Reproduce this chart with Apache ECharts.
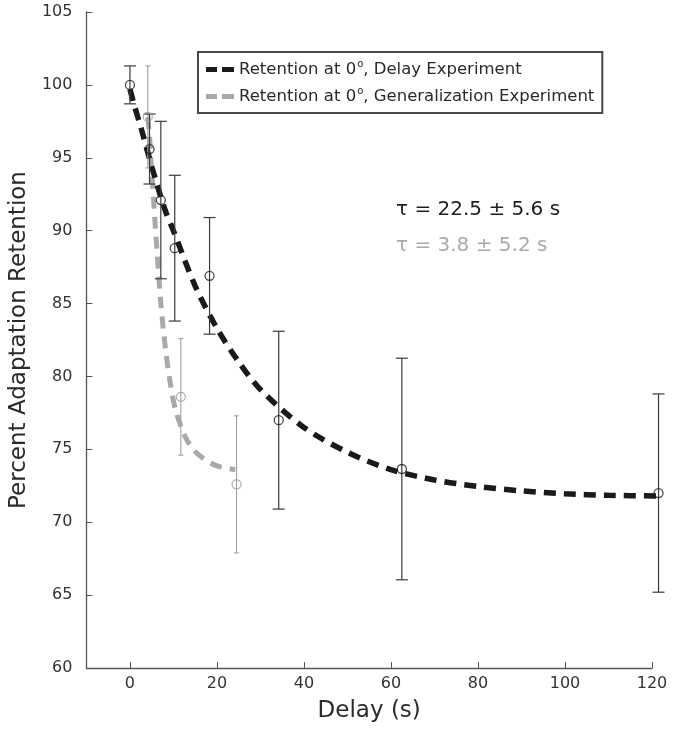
<!DOCTYPE html>
<html>
<head>
<meta charset="utf-8">
<script src="https://cdn.jsdelivr.net/npm/echarts@6/dist/echarts.min.js"></script>
<style>html,body{margin:0;padding:0;background:#fff}#c{width:683px;height:733px}</style>
</head>
<body>
<div id="c"></div>
<script>
// ---- data ----
const xTicks = [0, 20, 40, 60, 80, 100, 120];

// Delay experiment (black)
const delayX   = [0, 4.5, 7.1, 10.3, 18.3, 34.2, 62.5, 121.5];
const delayY   = [100, 95.6, 92.1, 88.8, 86.9, 77.0, 73.65, 72.0];
const delayErr = [1.3, 2.4, 5.4, 5.0, 4.0, 6.1, 7.6, 6.8];

// Generalization experiment (gray)
const genX   = [4.1, 11.7, 24.5];
const genY   = [97.8, 78.6, 72.6];
const genErr = [3.5, 4.0, 4.7];

// fitted curves
const delayFitX = [0, 1.1, 2.6, 5.1, 8.1, 10, 15, 20, 25, 30, 40, 50, 60, 70, 80, 90, 100, 110, 121.5];
const delayFitY = [99.7, 98.5, 97.0, 94.3, 91.4, 90.0, 86.2, 83.3, 81.0, 79.1, 76.5, 74.8, 73.6, 72.9, 72.45, 72.15, 71.95, 71.85, 71.8];
const genFitX = [4.1, 4.5, 4.9, 5.4, 5.8, 6.3, 7.1, 8.2, 9.3, 10.5, 12.8, 15.5, 19.7, 24.2];
const genFitY = [97.8, 96.5, 94.5, 92.3, 90.4, 88.3, 85.0, 81.8, 79.5, 77.7, 75.8, 74.7, 73.9, 73.6];

const legendNames = ['Retention at 0°, Delay Experiment', 'Retention at 0°, Generalization Experiment'];
const tauTexts = ['τ = 22.5 ± 5.6 s', 'τ = 3.8 ± 5.2 s'];

const zip = (a, b) => a.map((v, i) => [v, b[i]]);
const errData = (xs, ys, es) => xs.map((x, i) => [x, ys[i] - es[i], ys[i] + es[i]]);

function errRender(color, capHalf, width) {
  return function (params, api) {
    const x = api.value(0), lo = api.value(1), hi = api.value(2);
    const pLo = api.coord([x, lo]), pHi = api.coord([x, hi]);
    const st = { stroke: color, lineWidth: width };
    return {
      type: 'group',
      children: [
        { type: 'line', shape: { x1: pLo[0], y1: pLo[1], x2: pHi[0], y2: pHi[1] }, style: st },
        { type: 'line', shape: { x1: pLo[0] - capHalf, y1: pLo[1], x2: pLo[0] + capHalf, y2: pLo[1] }, style: st },
        { type: 'line', shape: { x1: pHi[0] - capHalf, y1: pHi[1], x2: pHi[0] + capHalf, y2: pHi[1] }, style: st }
      ]
    };
  };
}

const FONT = '"DejaVu Sans", sans-serif';
const chart = echarts.init(document.getElementById('c'));
const dashIcon = 'path://M0,0h11v5h-11z M16,0h12v5h-12z';

chart.setOption({
  animation: false,
  textStyle: { fontFamily: FONT },
  grid: { left: 83, right: 31, top: 12, bottom: 65, containLabel: false },
  legend: {
    left: 198, top: 52,
    orient: 'vertical',
    data: legendNames.map((n, i) => ({ name: n, icon: dashIcon, itemStyle: { color: i === 0 ? '#1a1a1a' : '#a9a9a9' } })),
    itemWidth: 28, itemHeight: 5, itemGap: 6,
    padding: [7, 8, 6, 8],
    borderColor: '#474747', borderWidth: 2,
    backgroundColor: '#fff',
    selectedMode: false,
    formatter: n => n.replace('0°', '0{sup|o}'),
    textStyle: {
      fontFamily: FONT, fontSize: 16.5, color: '#2a2a2a', lineHeight: 21,
      rich: { sup: { fontSize: 10, verticalAlign: 'top', padding: [0, 0, 8, 1], color: '#2a2a2a', fontFamily: FONT } }
    }
  },
  xAxis: {
    type: 'value', min: -10, max: 120,
    name: 'Delay (s)', nameLocation: 'middle', nameGap: 32,
    nameTextStyle: { fontSize: 23, color: '#2a2a2a', fontFamily: FONT },
    axisLine: { onZero: false, lineStyle: { color: '#555', width: 1.3 } },
    axisTick: { inside: true, length: 6, customValues: xTicks, lineStyle: { color: '#555' } },
    axisLabel: { customValues: xTicks, fontSize: 16, color: '#333', margin: 8, fontFamily: FONT },
    splitLine: { show: false }
  },
  yAxis: {
    type: 'value', min: 60, max: 105, interval: 5,
    name: 'Percent Adaptation Retention', nameLocation: 'middle', nameGap: 54,
    nameTextStyle: { fontSize: 23, color: '#2a2a2a', fontFamily: FONT },
    axisLine: { show: true, onZero: false, lineStyle: { color: '#555', width: 1.3 } },
    axisTick: { show: true, inside: true, length: 6, lineStyle: { color: '#555' } },
    axisLabel: { fontSize: 16, color: '#333', margin: 14, fontFamily: FONT },
    splitLine: { show: false }
  },
  series: [
    {
      name: legendNames[1], type: 'line', data: zip(genFitX, genFitY), smooth: 0.3,
      symbol: 'none', clip: false,
      lineStyle: { color: '#a9a9a9', width: 5, type: [12, 8] }, z: 2
    },
    {
      name: legendNames[0], type: 'line', data: zip(delayFitX, delayFitY), smooth: 0.3,
      symbol: 'none', clip: false,
      lineStyle: { color: '#1a1a1a', width: 5.5, type: [12, 8] }, z: 3
    },
    {
      type: 'custom', data: errData(genX, genY, genErr), renderItem: errRender('#a0a0a0', 2.5, 1.1),
      clip: false, z: 4, encode: { x: 0, y: [1, 2] }
    },
    {
      type: 'custom', data: errData(delayX, delayY, delayErr), renderItem: errRender('#3a3a3a', 6, 1.2),
      clip: false, z: 5, encode: { x: 0, y: [1, 2] }
    },
    {
      type: 'scatter', data: zip(genX, genY), symbol: 'circle', symbolSize: 9, clip: false,
      itemStyle: { color: 'rgba(255,255,255,0)', borderColor: '#9a9a9a', borderWidth: 1.2 }, z: 6
    },
    {
      type: 'scatter', data: zip(delayX, delayY), symbol: 'circle', symbolSize: 9, clip: false,
      itemStyle: { color: 'rgba(255,255,255,0)', borderColor: '#1a1a1a', borderWidth: 1.3 }, z: 7
    }
  ],
  graphic: [
    { type: 'text', x: 396, y: 210, style: { text: tauTexts[0], fontSize: 20, fill: '#1e1e1e', fontFamily: FONT, verticalAlign: 'middle' } },
    { type: 'text', x: 396, y: 246, style: { text: tauTexts[1], fontSize: 20, fill: '#aaaaaa', fontFamily: FONT, verticalAlign: 'middle' } }
  ]
});
</script>
</body>
</html>
